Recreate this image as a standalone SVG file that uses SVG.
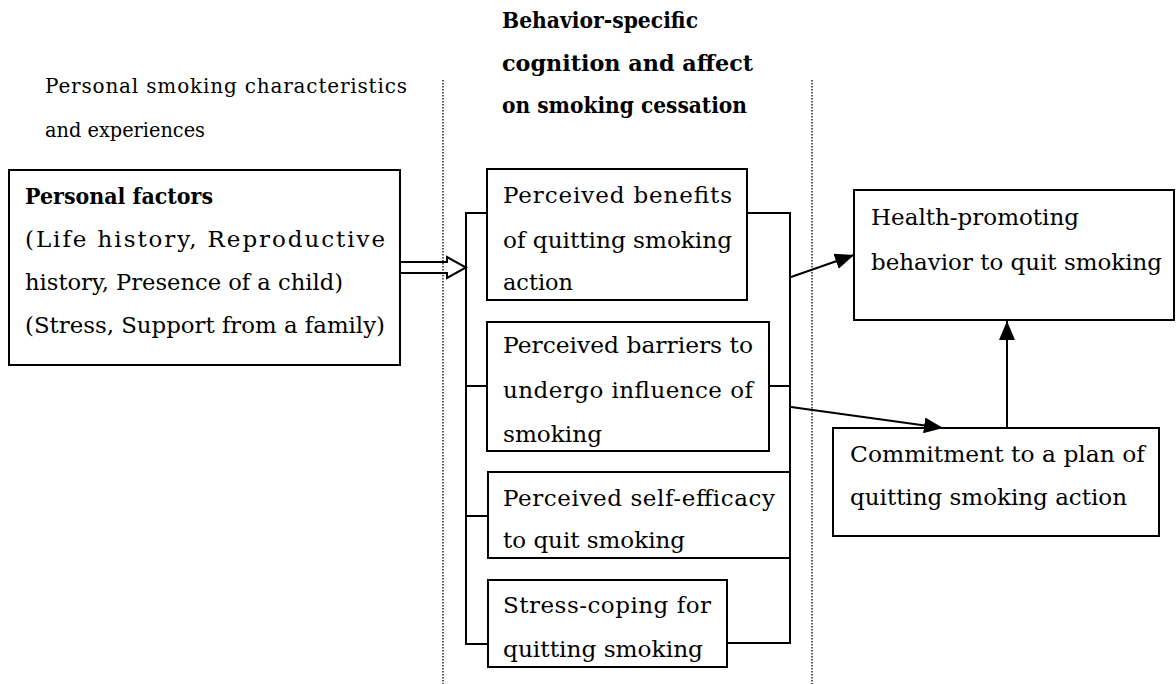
<svg xmlns="http://www.w3.org/2000/svg" width="1176" height="684" viewBox="0 0 1176 684">
<style>
  .box { fill: #fff; stroke: #000; stroke-width: 2; }
  .t { font-family: "DejaVu Serif", "Liberation Serif", serif; font-size: 23px; fill: #000; }
  .s { font-family: "DejaVu Serif", "Liberation Serif", serif; font-size: 20px; fill: #000; }
  .b { font-weight: bold; }
  .line { fill: none; stroke: #000; stroke-width: 2; }
  .dot { fill: none; stroke: #000; stroke-width: 1.3; stroke-dasharray: 1.5 1.5; }
</style>
<defs>
  <marker id="ah" markerUnits="userSpaceOnUse" markerWidth="20" markerHeight="16" refX="19" refY="8" orient="auto">
    <path d="M0,0 L19,8 L0,16 z" fill="#000"/>
  </marker>
</defs>
<rect width="1176" height="684" fill="#fff"/>

<g id="labels">
  <text class="s" x="45" y="93" textLength="362" lengthAdjust="spacing">Personal smoking characteristics</text>
  <text class="s" x="45" y="137" textLength="160" lengthAdjust="spacingAndGlyphs">and experiences</text>
  <text class="t b" x="502" y="28" textLength="196" lengthAdjust="spacingAndGlyphs">Behavior-specific</text>
  <text class="t b" x="502" y="71" textLength="251" lengthAdjust="spacingAndGlyphs">cognition and affect</text>
  <text class="t b" x="502" y="113" textLength="245" lengthAdjust="spacingAndGlyphs">on smoking cessation</text>
</g>

<g id="dividers">
  <line class="dot" x1="443" y1="80" x2="443" y2="684"/>
  <line class="dot" x1="812" y1="80" x2="812" y2="684"/>
</g>

<g id="personal-factors">
  <rect class="box" x="9" y="170" width="391" height="195"/>
  <text class="t b" x="25" y="204" textLength="188" lengthAdjust="spacingAndGlyphs">Personal factors</text>
  <text class="t" x="25" y="247" textLength="360" lengthAdjust="spacing">(Life history, Reproductive</text>
  <text class="t" x="25" y="290" textLength="318" lengthAdjust="spacingAndGlyphs">history, Presence of a child)</text>
  <text class="t" x="25" y="333" textLength="360" lengthAdjust="spacingAndGlyphs">(Stress, Support from a family)</text>
</g>

<g id="benefits">
  <rect class="box" x="487" y="169" width="260" height="131"/>
  <text class="t" x="503" y="203" textLength="229" lengthAdjust="spacing">Perceived benefits</text>
  <text class="t" x="503" y="248" textLength="229" lengthAdjust="spacingAndGlyphs">of quitting smoking</text>
  <text class="t" x="503" y="290" textLength="70" lengthAdjust="spacingAndGlyphs">action</text>
</g>

<g id="barriers">
  <rect class="box" x="487" y="322" width="282" height="129"/>
  <text class="t" x="503" y="353" textLength="250" lengthAdjust="spacingAndGlyphs">Perceived barriers to</text>
  <text class="t" x="503" y="398" textLength="250" lengthAdjust="spacing">undergo influence of</text>
  <text class="t" x="503" y="442" textLength="99" lengthAdjust="spacingAndGlyphs">smoking</text>
</g>

<g id="self-efficacy">
  <rect class="box" x="488" y="472" width="302" height="86"/>
  <text class="t" x="503" y="506" textLength="272" lengthAdjust="spacing">Perceived self-efficacy</text>
  <text class="t" x="503" y="548" textLength="182" lengthAdjust="spacingAndGlyphs">to quit smoking</text>
</g>

<g id="stress-coping">
  <rect class="box" x="488" y="580" width="239" height="87"/>
  <text class="t" x="503" y="613" textLength="208" lengthAdjust="spacing">Stress-coping for</text>
  <text class="t" x="503" y="657" textLength="200" lengthAdjust="spacingAndGlyphs">quitting smoking</text>
</g>

<g id="health-promoting">
  <rect class="box" x="854" y="190" width="320" height="130"/>
  <text class="t" x="871" y="225" textLength="208" lengthAdjust="spacingAndGlyphs">Health-promoting</text>
  <text class="t" x="871" y="270" textLength="291" lengthAdjust="spacingAndGlyphs">behavior to quit smoking</text>
</g>

<g id="commitment">
  <rect class="box" x="833" y="428" width="326" height="108"/>
  <text class="t" x="850" y="462" textLength="295" lengthAdjust="spacingAndGlyphs">Commitment to a plan of</text>
  <text class="t" x="850" y="505" textLength="277" lengthAdjust="spacingAndGlyphs">quitting smoking action</text>
</g>

<g id="connectors">
  <path class="line" d="M487,213 H466 V644 H488 M466,386 H487 M466,516 H488"/>
  <path class="line" d="M747,213 H790 V643 H727 M769,386 H790"/>
  <polygon class="line" points="400,262 447,262 447,257 466,267.5 447,278 447,273 400,273"/>
  <line class="line" x1="791" y1="277" x2="854" y2="255" marker-end="url(#ah)"/>
  <line class="line" x1="791" y1="407" x2="943" y2="428" marker-end="url(#ah)"/>
  <line class="line" x1="1007" y1="428" x2="1007" y2="321" marker-end="url(#ah)"/>
</g>
</svg>
